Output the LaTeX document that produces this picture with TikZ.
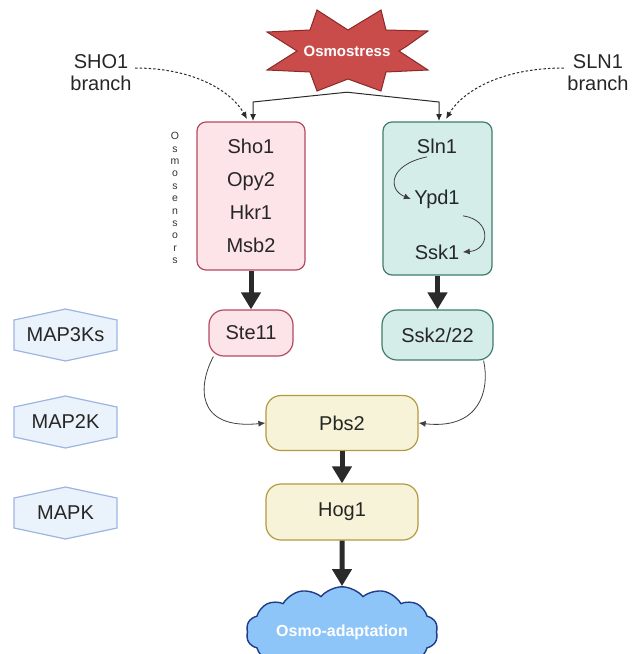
\documentclass[tikz,border=0pt]{standalone}
\usepackage{fontspec}
\setmainfont{Liberation Sans}
\usepackage{xcolor}
\usetikzlibrary{arrows.meta,shapes,positioning}

\definecolor{stressfill}{HTML}{C94B4A}
\definecolor{stressline}{HTML}{8A2A2A}
\definecolor{shofill}{HTML}{FDE4E9}
\definecolor{sholine}{HTML}{B5495F}
\definecolor{slnfill}{HTML}{D4EDE8}
\definecolor{slnline}{HTML}{3E7D6C}
\definecolor{mapfill}{HTML}{F6F3D8}
\definecolor{mapline}{HTML}{B39A3F}
\definecolor{hexfill}{HTML}{EAF2FB}
\definecolor{hexline}{HTML}{9DB5E3}
\definecolor{cloudfill}{HTML}{8EC5F9}
\definecolor{cloudline}{HTML}{1F3C88}
\definecolor{arrowdark}{HTML}{2A2A2A}

\tikzset{
  lbl/.style={font=\fontsize{20}{22}\selectfont, text=black!85, align=center},
  shobox/.style={lbl, draw=sholine, fill=shofill, line width=1.2pt, rounded corners=9pt},
  slnbox/.style={lbl, draw=slnline, fill=slnfill, line width=1.2pt, rounded corners=9pt},
  mapbox/.style={lbl, draw=mapline, fill=mapfill, line width=1.2pt, rounded corners=15pt,
    minimum width=152pt, minimum height=55pt},
  hexedge/.style={draw=hexline, fill=hexfill, line width=1.2pt},
  bigarrow/.style={draw=arrowdark, line width=5pt, -{Triangle[length=17pt,width=19pt]}},
  thinarrow/.style={draw=arrowdark, line width=1pt, -{Latex[length=7pt,width=6pt]}},
  dasharrow/.style={draw=arrowdark, line width=1pt, dash pattern=on 2.5pt off 2pt,
    -{Latex[length=7pt,width=6pt]}},
  curvearrow/.style={draw=arrowdark!90, line width=0.8pt, -{Latex[length=7pt,width=6pt]}},
}

\begin{document}
\begin{tikzpicture}[x=1pt, y=1pt]
  \clip (0,0) rectangle (633,-654);

  % Osmostress burst {{{
  \filldraw[fill=stressfill, draw=stressline, line width=1pt]
    (317,-10) -- (348,-30) -- (381,-10) -- (386,-30) -- (428,-31) -- (407,-46)
    -- (399,-51) -- (428,-70) -- (386,-72) -- (381,-91) -- (348,-79) -- (317,-91)
    -- (310,-72) -- (267,-70) -- (297,-51) -- (267,-32) -- (310,-30) -- cycle;
  \node[font=\fontsize{15}{18}\selectfont\bfseries, text=white, minimum height=82pt]
    (stress) at (347,-51) {Osmostress};
  % }}}

  % branch labels {{{
  \node[lbl] (sho) at (101,-73) {SHO1\\branch};
  \node[lbl] (sln) at (598,-73) {SLN1\\branch};
  % }}}

  % osmosensor boxes {{{
  \node[shobox, minimum width=108pt, minimum height=148pt,
    font=\fontsize{20}{33}\selectfont] (sens) at (251,-196) {Sho1\\Opy2\\Hkr1\\Msb2};
  \node[font=\fontsize{10.5}{12.4}\selectfont, align=center, text=black!80]
    (osmo) at (175,-198) {O\\s\\m\\o\\s\\e\\n\\s\\o\\r\\s};
  \node[slnbox, minimum width=109pt, minimum height=153pt] (phos) at (437.5,-198.5) {};
  \node[lbl] (sln1) at (437,-146) {Sln1};
  \node[lbl] (ypd1) at (437,-199) {Ypd1};
  \node[lbl] (ssk1) at (437,-252) {Ssk1};
  \draw[curvearrow] ([xshift=-10pt]sln1.south) .. controls (388,-165) and (388,-190) .. (ypd1.west);
  \draw[curvearrow] ([yshift=-4pt]ypd1.south east) .. controls (492,-220) and (490,-250) .. (ssk1.east);
  % }}}

  % osmostress inputs {{{
  \coordinate (shoin) at (253,-121);
  \coordinate (slnin) at (439,-121);
  \draw[thinarrow] (stress.south) -- (253,-102) -- (shoin);
  \draw[thinarrow] (stress.south) -- (439,-102) -- (slnin);
  \draw[dasharrow] ([yshift=5pt]sho.east) .. controls (195,-68) and (232,-92) .. (247,-119);
  \draw[dasharrow] ([yshift=5pt]sln.west) .. controls (500,-68) and (462,-92) .. (446,-119);
  % }}}

  % kinase levels {{{
  \foreach \lab/\y [count=\i] in {MAP3Ks/335, MAP2K/422, MAPK/513} {
    \begin{scope}[shift={(65.5,-\y)}]
      \draw[hexedge] (-51.5,15) -- (0,26) -- (51.5,15) -- (51.5,-15) -- (0,-26) -- (-51.5,-15) -- cycle;
      \node[lbl] (lvl\i) at (0,0) {\lab};
    \end{scope}
  }
  % }}}

  % MAPK cascade {{{
  \node[shobox, rounded corners=15pt, minimum width=84pt, minimum height=46pt] (ste) at (251,-333) {Ste11};
  \node[slnbox, rounded corners=15pt, minimum width=111pt, minimum height=50pt] (ssk) at (437.5,-335) {Ssk2/22};
  \node[mapbox] (pbs) at (342,-423) {Pbs2};
  \node[mapbox, minimum height=56pt] (hog) at (342,-512) {Hog1};
  \node[cloud, cloud puffs=14, cloud puff arc=100, aspect=2.6, draw=cloudline, fill=cloudfill,
    line width=1.4pt, minimum width=172pt, minimum height=72pt, text=white, inner sep=1pt,
    font=\fontsize{16}{19}\selectfont\bfseries] (adapt) at (342,-632) {Osmo-adaptation};

  \draw[bigarrow] (sens.south) -- (ste.north);
  \draw[bigarrow] (phos.south) -- (ssk.north);
  \draw[bigarrow] (pbs.south) -- (hog.north);
  \draw[bigarrow] (hog.south) -- (adapt.north);
  \draw[curvearrow] ([xshift=5pt]ste.south west) .. controls (198,-385) and (195,-430) .. (pbs.west);
  \draw[curvearrow] ([xshift=-10pt]ssk.south east) .. controls (490,-390) and (480,-430) .. (pbs.east);
  % }}}
\end{tikzpicture}
\end{document}
